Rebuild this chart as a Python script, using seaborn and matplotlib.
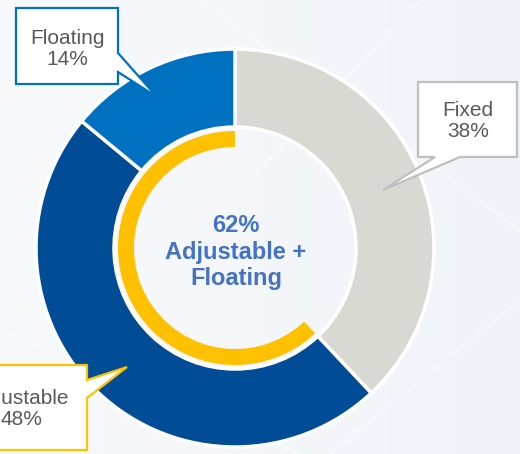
import numpy as np
import matplotlib
matplotlib.use("Agg")
from matplotlib import pyplot as plt
from matplotlib.patches import Polygon
import seaborn as sns

# rate mix, clockwise from 12 o'clock
categories = ["Fixed", "Adjustable", "Floating"]
shares = [38, 48, 14]
highlight = ["Adjustable", "Floating"]

sns.set_theme(style="white")
plt.rcParams['font.family'] = ['Liberation Sans', 'DejaVu Sans']

W, H = 520, 454
fig = plt.figure(figsize=(W / 100, H / 100), dpi=100)
ax = fig.add_axes([0, 0, 1, 1])

# pale background wash
grad = np.linspace(0, 1, 256)
bg = np.outer(np.ones(64), grad)
ax.imshow(bg, extent=(0, W, 0, H), cmap=sns.blend_palette(["#F8F9FB", "#F0F4F9"], as_cmap=True),
          aspect='auto', zorder=0)
for (x0, y0, x1, y1) in [(0, 330, 300, 454), (200, 0, 520, 230), (330, 454, 520, 300), (250, 180, 420, 0)]:
    ax.plot([x0, x1], [H - y0, H - y1], color="white", lw=2, alpha=0.35, zorder=0.5)

cx, cy = 235, H - 248
ring_colors = {"Fixed": "#D9D9D4", "Adjustable": "#004C97", "Floating": "#0070C0"}
ax.pie(shares, radius=199, center=(cx, cy), startangle=90, counterclock=False,
       colors=[ring_colors[c] for c in categories],
       wedgeprops=dict(width=78, edgecolor="white", linewidth=2.5))

hl = sum(s for c, s in zip(categories, shares) if c in highlight)
ax.pie([hl, 100 - hl], radius=117, center=(cx, cy), startangle=90, counterclock=True,
       colors=["#FFC000", "none"], wedgeprops=dict(width=16, linewidth=0))

ax.set_xlim(0, W)
ax.set_ylim(0, H)
ax.set_aspect('auto')
ax.axis('off')

ax.text(cx + 1, H - 252, f"{hl}%\nAdjustable +\nFloating", ha='center', va='center',
        fontsize=17, fontweight='bold', color="#4472C4", linespacing=1.2)

def callout(pts, edge, label, tx, ty):
    poly = Polygon([(x, H - y) for x, y in pts], closed=True, facecolor="white",
                   edgecolor=edge, linewidth=1.6, zorder=5)
    ax.add_patch(poly)
    ax.text(tx, H - ty, label, ha='center', va='center', fontsize=15,
            color="#595959", linespacing=1.1, zorder=6)

val = dict(zip(categories, shares))
callout([(16, 8), (118, 8), (118, 53), (157, 97), (118, 72), (118, 84), (16, 84)],
        "#0070C0", f"Floating\n{val['Floating']}%", 67, 49)
callout([(418, 82), (517, 82), (517, 157), (460, 157), (383, 190), (435, 157), (418, 157)],
        "#BFBFBF", f"Fixed\n{val['Fixed']}%", 468, 121)
callout([(-45, 365), (87, 365), (87, 380), (127, 367), (87, 398), (87, 450), (-45, 450)],
        "#FFC000", f"Adjustable\n{val['Adjustable']}%", 21, 409)

fig.savefig("out.png", dpi=100)
